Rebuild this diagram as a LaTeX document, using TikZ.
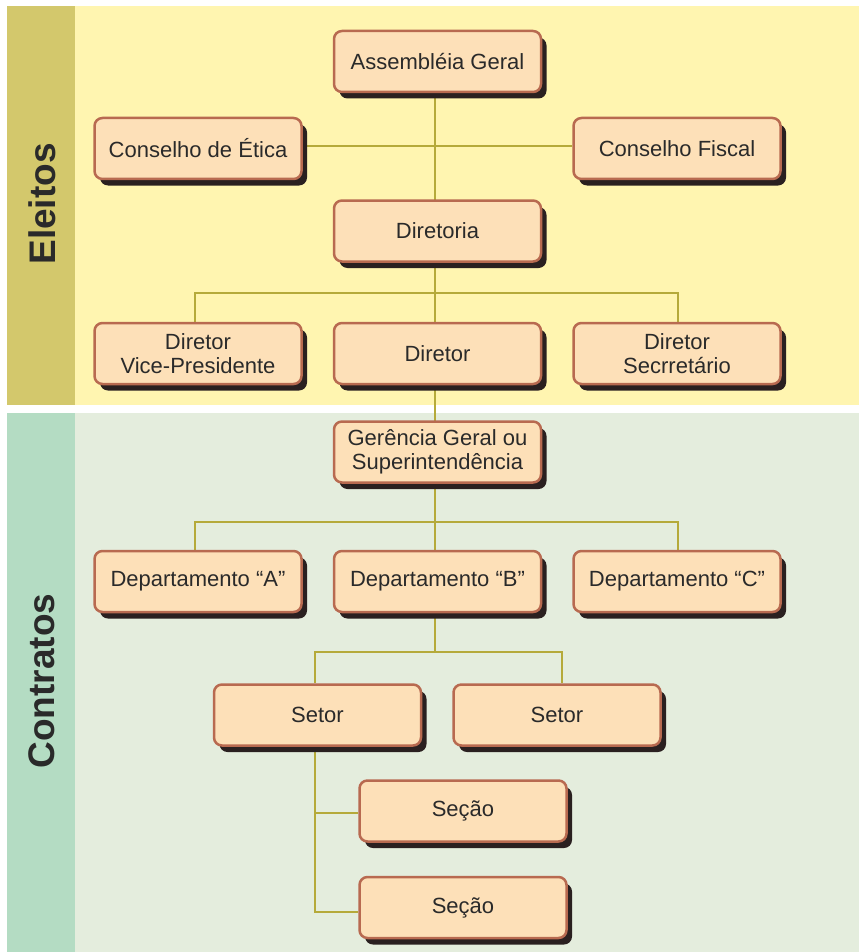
\documentclass[tikz,border=0pt]{standalone}
\usepackage{fontspec}
\setmainfont{Liberation Sans}
\usetikzlibrary{shadows}
\definecolor{yellowbg}{HTML}{FFF5B0}
\definecolor{oliveband}{HTML}{D3C86C}
\definecolor{greenbg}{HTML}{E4EDDD}
\definecolor{greenband}{HTML}{B4DCC3}
\definecolor{boxfill}{HTML}{FDE0B8}
\definecolor{boxline}{HTML}{B86A50}
\definecolor{shadowc}{HTML}{2A2020}
\definecolor{linkc}{HTML}{B5AA3A}
\definecolor{textc}{HTML}{2A2A2A}
\tikzset{
  orgbox/.style={draw=boxline, fill=boxfill, line width=2.5pt, rounded corners=8pt,
    minimum width=207pt, minimum height=61pt, inner sep=2pt, align=center,
    text=textc, font=\fontsize{22}{24}\selectfont,
    general shadow={shadow xshift=5.5pt, shadow yshift=-6.5pt, fill=shadowc, draw=none}},
  link/.style={draw=linkc, line width=1.6pt},
  bandlabel/.style={rotate=90, font=\bfseries\fontsize{37}{40}\selectfont, text=textc}
}
\begin{document}
\begin{tikzpicture}[x=1pt,y=-1pt]
\useasboundingbox (0,0) rectangle (859,952);
\fill[white] (0,0) rectangle (859,952);
% backgrounds
\fill[oliveband] (7,6) rectangle (75,405);
\fill[yellowbg] (75,6) rectangle (859,405);
\fill[greenband] (7,413) rectangle (75,952);
\fill[greenbg] (75,413) rectangle (859,952);
\node[bandlabel] (el) at (42,204) {Eleitos};
\node[bandlabel] (co) at (42,681) {Contratos};
% coordinates
\coordinate (j1) at (435,293);
\coordinate (j2) at (435,522);
\coordinate (j3) at (435,652);
\coordinate (agS) at (435,93);
\coordinate (dirN) at (435,200);
\coordinate (dirS) at (435,262);
\coordinate (d2N) at (435,322);
\coordinate (d2S) at (435,385);
\coordinate (ggN) at (435,422);
\coordinate (ggS) at (435,482);
\coordinate (dbN) at (435,550);
\coordinate (dbS) at (435,613);
\coordinate (ceE) at (303,146);
\coordinate (cfW) at (572,146);
\coordinate (d1N) at (195,322);
\coordinate (d3N) at (678,322);
\coordinate (daN) at (195,550);
\coordinate (dcN) at (678,550);
\coordinate (s1N) at (315,683);
\coordinate (s2N) at (562,683);
\coordinate (s1S) at (315,747);
\coordinate (j4) at (315,813);
\coordinate (j5) at (315,912);
\coordinate (sc1W) at (358,813);
\coordinate (sc2W) at (358,912);
% links (behind boxes)
\draw[link] (agS) -- (dirN);
\draw[link] (ceE) -- (cfW);
\draw[link] (dirS) -- (d2N);
\draw[link] (d1N) |- (j1) -| (d3N);
\draw[link] (d2S) -- (ggN);
\draw[link] (ggS) -- (dbN);
\draw[link] (daN) |- (j2) -| (dcN);
\draw[link] (dbS) -- (j3);
\draw[link] (s1N) |- (j3) -| (s2N);
\draw[link] (s1S) -- (j5) -- (sc2W);
\draw[link] (j4) -- (sc1W);
% boxes
\node[orgbox] (ag) at (437.5,61.5) {Assembléia Geral};
\node[orgbox] (ce) at (198,148.5) {Conselho de Ética};
\node[orgbox] (cf) at (677,148.5) {Conselho Fiscal};
\node[orgbox] (dir) at (437.5,231) {Diretoria};
\node[orgbox] (d1) at (198,353.5) {Diretor\\Vice-Presidente};
\node[orgbox] (d2) at (437.5,353.5) {Diretor};
\node[orgbox] (d3) at (677,353.5) {Diretor\\Secrretário};
\node[orgbox] (gg) at (437.5,452) {Gerência Geral ou\\Superintendência};
\node[orgbox] (da) at (198,581.5) {Departamento “A”};
\node[orgbox] (db) at (437.5,581.5) {Departamento “B”};
\node[orgbox] (dc) at (677,581.5) {Departamento “C”};
\node[orgbox] (s1) at (317.5,715) {Setor};
\node[orgbox] (s2) at (557,715) {Setor};
\node[orgbox] (sc1) at (463,811) {Seção};
\node[orgbox] (sc2) at (463,907.5) {Seção};
\end{tikzpicture}
\end{document}
